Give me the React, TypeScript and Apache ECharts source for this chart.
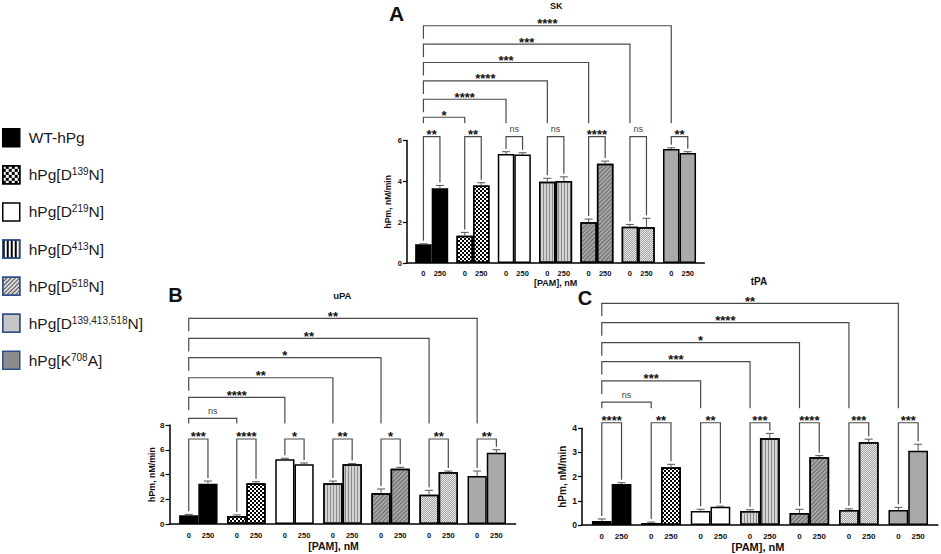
import { useEffect, useRef } from 'react';
import * as echarts from 'echarts';

const FONT = '"Liberation Sans", Arial, Helvetica, sans-serif';
const INK = '#111111';
const LINE = '#4a4a4a';

// ---------- categories ----------
const doseLabels = ['0', '250'];
const groupCount = 7;
const variantNames = ['WT-hPg', 'hPg[D139N]', 'hPg[D219N]', 'hPg[D413N]', 'hPg[D518N]', 'hPg[D139,413,518N]', 'hPg[K708A]'];
const variantRich = ['WT-hPg', 'hPg[D{s|139}N]', 'hPg[D{s|219}N]', 'hPg[D{s|413}N]', 'hPg[D{s|518}N]', 'hPg[D{s|139,413,518}N]', 'hPg[K{s|708}A]'];

// ---------- Panel A : SK ----------
const skBase = [0.92, 1.34, 5.34, 3.98, 1.99, 1.78, 5.58];
const skBaseErr = [0.02, 0.16, 0.11, 0.17, 0.16, 0.11, 0.06];
const skPam = [3.66, 3.79, 5.32, 4.02, 4.86, 1.75, 5.39];
const skPamErr = [0.14, 0.14, 0.08, 0.2, 0.13, 0.44, 0.06];
const skPairSig = ['**', '**', 'ns', 'ns', '****', 'ns', '**'];
const skMultiSig = ['*', '****', '****', '***', '***', '****'];
const skPairLevel = 6.19;
const skMultiLevels = [7.14, 8.02, 8.92, 9.82, 10.72, 11.62];
const skLegFloor = 6.84;

// ---------- Panel B : uPA ----------
const uBase = [0.7, 0.65, 5.23, 3.29, 2.48, 2.37, 3.88];
const uBaseErr = [0.08, 0.08, 0.08, 0.18, 0.35, 0.35, 0.4];
const uPam = [3.26, 3.29, 4.82, 4.82, 4.47, 4.18, 5.76];
const uPamErr = [0.21, 0.13, 0.11, 0.06, 0.11, 0.1, 0.24];
const uPairSig = ['***', '****', '*', '**', '*', '**', '**'];
const uMultiSig = ['ns', '****', '**', '*', '**', '**'];
const uPairLevel = 6.87;
const uMultiLevels = [8.54, 10.24, 11.82, 13.44, 15.0, 16.62];
const uLegFloor = 8.12;

// ---------- Panel C : tPA ----------
const tBase = [0.17, 0.08, 0.58, 0.58, 0.5, 0.62, 0.62];
const tBaseErr = [0.08, 0.04, 0.07, 0.05, 0.15, 0.05, 0.11];
const tPam = [1.7, 2.39, 0.76, 3.59, 2.8, 3.42, 3.07];
const tPamErr = [0.05, 0.12, 0.02, 0.2, 0.07, 0.13, 0.27];
const tPairSig = ['****', '**', '**', '***', '****', '***', '***'];
const tMultiSig = ['ns', '***', '***', '*', '****', '**'];
const tPairLevel = 4.23;
const tMultiLevels = [5.08, 5.96, 6.76, 7.54, 8.37, 9.17];
const tLegFloor = 4.83;

// ---------- styles ----------
const checker = { symbol: 'rect', symbolSize: 1, color: '#000000', backgroundColor: '#ffffff', dashArrayX: [[2, 2], [0, 2, 2, 0]], dashArrayY: [2, 0], rotation: 0 };
const lgChecker = { symbol: 'rect', symbolSize: 1, color: '#000000', backgroundColor: '#ffffff', dashArrayX: [[3, 3], [0, 3, 3, 0]], dashArrayY: [3, 0], rotation: 0 };
const vstripe = { symbol: 'rect', symbolSize: 1, color: '#8a8a8a', backgroundColor: '#d3d3d3', dashArrayX: [1, 2], dashArrayY: [4, 0], rotation: 0 };
const diag = { symbol: 'rect', symbolSize: 1, color: '#6a6a6a', backgroundColor: '#a6a6a6', dashArrayX: [4, 0], dashArrayY: [1, 2], rotation: -Math.PI / 4 };
const dots = { symbol: 'rect', symbolSize: 1, color: '#a6a6a6', backgroundColor: '#e6e6e6', dashArrayX: [[1, 1], [0, 1, 1, 0]], dashArrayY: [1, 0], rotation: 0 };
const lgStripe = { symbol: 'rect', symbolSize: 1, color: '#000000', backgroundColor: '#ffffff', dashArrayX: [2, 1.5], dashArrayY: [4, 0], rotation: 0 };
const lgDiag = { symbol: 'rect', symbolSize: 1, color: '#555555', backgroundColor: '#d8d8d8', dashArrayX: [4, 0], dashArrayY: [1, 1.5], rotation: -Math.PI / 4 };

const barFills = ['#000000', '#ffffff', '#ffffff', '#d3d3d3', '#a6a6a6', '#e6e6e6', '#a9a9a9'];
const barDecals: any[] = [null, checker, null, vstripe, diag, dots, null];
const legendFills = ['#000000', '#ffffff', '#ffffff', '#ffffff', '#d8d8d8', '#e6e6e6', '#8c8c8c'];
const legendDecals: any[] = [null, lgChecker, null, lgStripe, lgDiag, dots, null];
const legendBorders = ['#000000', '#000000', '#000000', '#2f4f8f', '#2f4f8f', '#2f4f8f', '#2f4f8f'];

const xMin = -0.6;
const xMax = 6.6;
const halfBar = 0.2;

type Panel = {
  base: number[]; baseErr: number[]; pam: number[]; pamErr: number[];
  pairSig: string[]; multiSig: string[];
  pairLevel: number; multiLevels: number[]; legFloor: number;
  yMax: number; yStep: number;
  grid: { left: number; top: number; width: number; height: number };
  tick: number; yName: number; xName: number; dose: number;
  yNameGap: number; xNameGap: number; doseGap: number; xNamePad: number[];
};

const panels: Panel[] = [
  {
    base: skBase, baseErr: skBaseErr, pam: skPam, pamErr: skPamErr,
    pairSig: skPairSig, multiSig: skMultiSig, pairLevel: skPairLevel, multiLevels: skMultiLevels, legFloor: skLegFloor,
    yMax: 6, yStep: 2, grid: { left: 406.9, top: 140.5, width: 297.4, height: 122.5 },
    tick: 7.5, yName: 8.6, xName: 9, dose: 7.5, yNameGap: 14, xNameGap: 15.5, doseGap: 6.5, xNamePad: [0, 0, 0, 0],
  },
  {
    base: uBase, baseErr: uBaseErr, pam: uPam, pamErr: uPamErr,
    pairSig: uPairSig, multiSig: uMultiSig, pairLevel: uPairLevel, multiLevels: uMultiLevels, legFloor: uLegFloor,
    yMax: 8, yStep: 2, grid: { left: 169.5, top: 425, width: 346.1, height: 99 },
    tick: 8, yName: 8.8, xName: 10.5, dose: 7.5, yNameGap: 13, xNameGap: 16.5, doseGap: 7, xNamePad: [0, 18, 0, 0],
  },
  {
    base: tBase, baseErr: tBaseErr, pam: tPam, pamErr: tPamErr,
    pairSig: tPairSig, multiSig: tMultiSig, pairLevel: tPairLevel, multiLevels: tMultiLevels, legFloor: tLegFloor,
    yMax: 4, yStep: 1, grid: { left: 582, top: 428.3, width: 355.9, height: 96.7 },
    tick: 8.5, yName: 10, xName: 11, dose: 8, yNameGap: 15, xNameGap: 16, doseGap: 7.5, xNamePad: [0, 4, 0, 0],
  },
];

function barStyle(g: number) {
  const s: any = { color: barFills[g], borderColor: '#000000', borderWidth: 1.5 };
  if (barDecals[g]) s.decal = barDecals[g];
  return s;
}

function buildOption() {
  const grids: any[] = [];
  const xAxes: any[] = [];
  const yAxes: any[] = [];
  const series: any[] = [];

  panels.forEach((p, i) => {
    grids.push({ ...p.grid, containLabel: false, outerBoundsMode: 'none' });
    xAxes.push({
      gridIndex: i, type: 'value', min: xMin, max: xMax,
      axisLine: { show: true, onZero: false, lineStyle: { color: '#000', width: 1.5 } },
      axisTick: { show: false }, axisLabel: { show: false }, splitLine: { show: false },
      name: '[PAM], nM', nameLocation: 'middle', nameGap: p.xNameGap, nameMoveOverlap: false,
      nameTextStyle: { fontFamily: FONT, fontWeight: 'bold', fontSize: p.xName, color: INK, padding: p.xNamePad },
    });
    yAxes.push({
      gridIndex: i, type: 'value', min: 0, max: p.yMax, interval: p.yStep,
      axisLine: { show: true, onZero: false, lineStyle: { color: '#000', width: 1.5 } },
      axisTick: { show: true, length: 4, lineStyle: { color: '#000', width: 1.2 } },
      axisLabel: { fontFamily: FONT, fontWeight: 'bold', fontSize: p.tick, color: INK, margin: 5 },
      splitLine: { show: false },
      name: 'hPm, nM/min', nameLocation: 'middle', nameGap: p.yNameGap, nameMoveOverlap: false,
      nameTextStyle: { fontFamily: FONT, fontWeight: 'bold', fontSize: p.yName, color: INK },
    });

    const bandPx = p.grid.width / (xMax - xMin);
    const barData: any[] = [];
    const errData: number[][] = [];
    for (let g = 0; g < groupCount; g++) {
      const pairs = [[p.base[g], p.baseErr[g]], [p.pam[g], p.pamErr[g]]];
      pairs.forEach(([v, e], d) => {
        const x = g + (d === 0 ? -halfBar : halfBar);
        barData.push({ name: doseLabels[d], value: [x, v], itemStyle: barStyle(g) });
        errData.push([x, v, v + e]);
      });
    }
    series.push({
      type: 'bar', xAxisIndex: i, yAxisIndex: i, barWidth: 2 * halfBar * bandPx, z: 2,
      data: barData, silent: true,
      label: { show: true, position: 'bottom', distance: p.doseGap, formatter: '{b}', fontFamily: FONT, fontWeight: 'bold', fontSize: p.dose, color: INK },
    });
    series.push({
      type: 'custom', xAxisIndex: i, yAxisIndex: i, z: 3, clip: false, silent: true,
      encode: { x: 0, y: 1 }, data: errData,
      renderItem: (_params: any, api: any) => {
        const x = api.value(0), y1 = api.value(1), y2 = api.value(2);
        const a = api.coord([x, y1]);
        const b = api.coord([x, y2]);
        const cap = 4;
        const st = { stroke: '#555555', lineWidth: 1 };
        return {
          type: 'group', children: [
            { type: 'line', shape: { x1: a[0], y1: a[1], x2: b[0], y2: b[1] }, style: st },
            { type: 'line', shape: { x1: b[0] - cap, y1: b[1], x2: b[0] + cap, y2: b[1] }, style: st },
          ],
        };
      },
    });

    // brackets
    const labels: string[] = [];
    const brData: number[][] = [];
    for (let g = 0; g < groupCount; g++) {
      brData.push([g - halfBar, g + halfBar, p.pairLevel, p.base[g] + p.baseErr[g], p.pam[g] + p.pamErr[g], 3, 0]);
      labels.push(p.pairSig[g]);
    }
    p.multiSig.forEach((s, k) => {
      const to = k + 1;
      brData.push([-halfBar, to - halfBar, p.multiLevels[k], p.legFloor, p.legFloor, 0, k === 0 ? 0 : 1]);
      labels.push(s);
    });
    series.push({
      type: 'custom', xAxisIndex: i, yAxisIndex: i, z: 4, clip: false, silent: true,
      encode: { x: 0, y: 2 }, data: brData,
      renderItem: (params: any, api: any) => {
        const v = (k: number) => api.value(k) as number;
        const pL = api.coord([v(0), v(2)]);
        const pR = api.coord([v(1), v(2)]);
        let yL = api.coord([v(0), v(3)])[1] - v(5);
        const yR = api.coord([v(1), v(4)])[1] - v(5);
        if (v(6) === 1) yL = Math.min(yL, pL[1] + 13);
        const text = labels[params.dataIndex];
        const ns = text === 'ns';
        return {
          type: 'group', children: [
            { type: 'polyline', shape: { points: [[pL[0], yL], [pL[0], pL[1]], [pR[0], pR[1]], [pR[0], yR]] }, style: { stroke: LINE, lineWidth: 1.2, fill: 'none' } },
            {
              type: 'text', x: (pL[0] + pR[0]) / 2, y: pL[1] - (ns ? 7.5 : 2),
              style: {
                text, fill: ns ? '#444444' : '#111111', fontFamily: FONT, fontSize: ns ? 9 : 13, fontWeight: ns ? 'normal' : 'bold',
                align: 'center', verticalAlign: 'middle', textAlign: 'center', textVerticalAlign: 'middle',
              },
            },
          ],
        };
      },
    });
  });

  // hidden grid for legend entries
  grids.push({ left: -100, top: -100, width: 10, height: 10, outerBoundsMode: 'none' });
  xAxes.push({ gridIndex: 3, type: 'category', show: false, data: ['x'] });
  yAxes.push({ gridIndex: 3, type: 'value', show: false });
  variantNames.forEach((n, g) => {
    const it: any = { color: legendFills[g], borderColor: legendBorders[g], borderWidth: 1.5 };
    if (legendDecals[g]) it.decal = legendDecals[g];
    series.push({ type: 'bar', name: n, xAxisIndex: 3, yAxisIndex: 3, data: [], itemStyle: it, stack: 'lg' });
  });

  const txt = (text: string, x: number, y: number, size: number) => ({
    type: 'text', x, y, silent: true,
    style: { text, fill: INK, fontFamily: FONT, fontSize: size, fontWeight: 'bold', align: 'center', verticalAlign: 'middle', textAlign: 'center', textVerticalAlign: 'middle' },
  });

  return {
    animation: false,
    backgroundColor: '#ffffff',
    grid: grids, xAxis: xAxes, yAxis: yAxes, series,
    legend: {
      orient: 'vertical', left: 2, top: 128, padding: 0, itemWidth: 17, itemHeight: 18, itemGap: 17.6, icon: 'rect',
      selectedMode: false,
      data: variantNames.map((n, g) => ({ name: n, itemStyle: { borderColor: legendBorders[g], borderWidth: 1.5 } })),
      formatter: (name: string) => variantRich[variantNames.indexOf(name)],
      textStyle: {
        fontFamily: FONT, fontSize: 15.5, color: '#1a1a1a', lineHeight: 16, padding: [0, 0, 0, 4],
        rich: { s: { fontFamily: FONT, fontSize: 10, color: '#1a1a1a', lineHeight: 10, verticalAlign: 'top' } },
      },
    },
    graphic: [
      txt('A', 396.7, 13.3, 21),
      txt('SK', 556.3, 5.5, 9),
      txt('B', 175.5, 295, 20),
      txt('uPA', 342.3, 295, 9.5),
      txt('C', 585, 298.3, 20),
      txt('tPA', 759, 281, 10),
    ],
  };
}

export default function App() {
  const ref = useRef<HTMLDivElement>(null);
  useEffect(() => {
    if (!ref.current) return;
    const chart = echarts.init(ref.current, undefined, { renderer: 'svg' });
    chart.setOption(buildOption() as any);
    return () => chart.dispose();
  }, []);
  return <div ref={ref} style={{ position: 'absolute', left: 0, top: 0, width: 941, height: 554 }} />;
}
